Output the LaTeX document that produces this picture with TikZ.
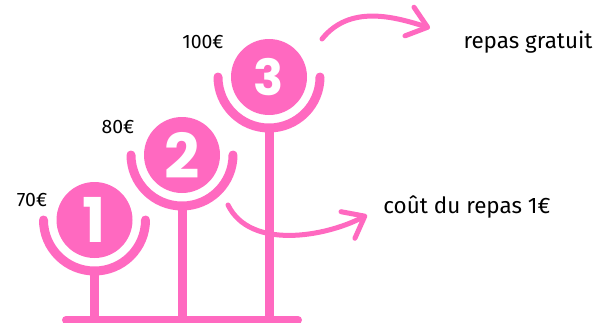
\documentclass[tikz,border=0pt]{standalone}
\usepackage{fontspec}
\setmainfont{Fira Sans}
\newfontfamily\digitfont{Poppins}
\usetikzlibrary{arrows.meta}
\definecolor{rose}{HTML}{FF69C0}
\begin{document}
\begin{tikzpicture}[x=1bp, y=1bp,
	disc/.style={circle, fill=rose, minimum size=76bp, inner sep=0pt, text=white, font=\digitfont\bfseries\fontsize{62}{62}\selectfont},
	holder/.style={draw=rose, line width=9bp, line cap=round},
	price/.style={font=\fontsize{19.5}{19.5}\selectfont},
	note/.style={font=\fontsize{22.5}{22.5}\selectfont},
	curvearrow/.style={draw=rose, line width=5bp, line cap=round, -{Straight Barb[length=19bp, width=30bp, round]}}]
	\useasboundingbox (0,0) rectangle (610,322);
	
	%Base
	\coordinate (B1) at (66,2);
	\coordinate (B2) at (298,2);
	\draw[holder, line width=8bp] (B1) -- (B2);
	
	%Step 1
	\node[disc] (S1) at (94.5,102) {1};
	\draw[holder] (S1.center) ++(-51,0) arc[start angle=180, end angle=360, radius=51];
	\draw[holder, line cap=butt] ([yshift=-51bp]S1.center) -- (S1.center |- B1);
	\node[price] (P1) at (32,122) {70€};
	
	%Step 2
	\node[disc] (S2) at (182,167) {2};
	\draw[holder] (S2.center) ++(-51,0) arc[start angle=180, end angle=360, radius=51];
	\draw[holder, line cap=butt] ([yshift=-51bp]S2.center) -- (S2.center |- B1);
	\node[price] (P2) at (118,195) {80€};
	
	%Step 3
	\node[disc, font=\digitfont\bfseries\fontsize{50}{50}\selectfont] (S3) at (269,245) {3};
	\draw[holder] (S3.center) ++(-51,0) arc[start angle=180, end angle=360, radius=51];
	\draw[holder, line cap=butt] ([yshift=-51bp]S3.center) -- (S3.center |- B1);
	\node[price] (P3) at (203,280) {100€};
	
	%Arrows
	\node[note] (N1) at (528,280) {repas gratuit};
	\node[note] (N2) at (467,115) {coût du repas 1€};
	\coordinate (A1) at (322,283);
	\coordinate (E1) at (430,294);
	\coordinate (A2) at (228,117);
	\coordinate (E2) at (367,107);
	\draw[curvearrow] (A1) .. controls (350,318) and (395,305) .. (E1);
	\draw[curvearrow] (A2) .. controls (250,72) and (325,85) .. (E2);
\end{tikzpicture}
\end{document}
